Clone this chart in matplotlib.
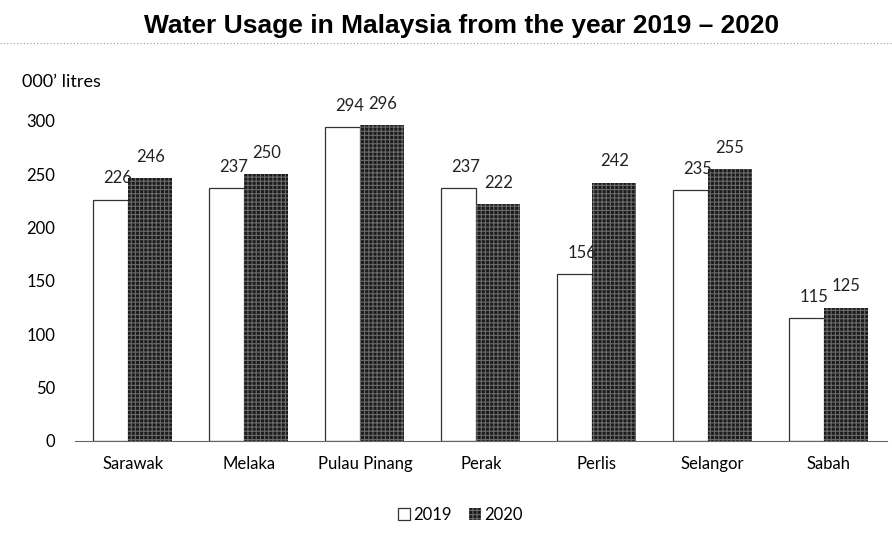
import matplotlib.pyplot as plt
import numpy as np

estados = ['Sarawak', 'Melaka', 'Pulau Pinang', 'Perak', 'Perlis', 'Selangor', 'Sabah']
uso_2019 = [226, 237, 294, 237, 156, 235, 115]
uso_2020 = [246, 250, 296, 222, 242, 255, 125]

plt.rcParams['font.family'] = ['Lato', 'DejaVu Sans']
plt.rcParams['hatch.linewidth'] = 0.8

fig = plt.figure(figsize=(8.92, 5.43), dpi=100)
ax = fig.add_axes([0.084, 0.188, 0.910, 0.668])

x = np.arange(len(estados))
larg1, larg2 = 0.30, 0.38
x1 = x - 0.04 - larg1/2
x2 = x - 0.04 + larg2/2
ax.bar(x1, uso_2019, larg1, facecolor='white', edgecolor='#333333', linewidth=0.9, label='2019')
ax.bar(x2, uso_2020, larg2, facecolor='#1c1c1c', edgecolor='#6a6a6a', hatch='++++', linewidth=0, label='2020')

for xi, v in zip(x1, uso_2019):
    ax.text(xi + 0.06, v + 20, str(v), ha='center', va='center', fontsize=12, color='#222222')
for xi, v in zip(x2, uso_2020):
    ax.text(xi, v + 20, str(v), ha='center', va='center', fontsize=12, color='#222222')

ax.set_ylim(0, 340)
ax.set_xlim(-0.5, len(estados) - 0.5)
ax.set_yticks(range(0, 301, 50))
ax.set_xticks(x)
ax.set_xticklabels(estados, fontsize=12)
ax.tick_params(axis='y', length=0, pad=14, labelsize=12)
ax.tick_params(axis='x', length=0, pad=11)
for lado in ['top', 'right', 'left']:
    ax.spines[lado].set_visible(False)
ax.spines['bottom'].set_color('#666666')
ax.spines['bottom'].set_linestyle((0, (2, 1)))

fig.text(0.025, 0.849, "000\u2019 litres", fontsize=13, ha='left', va='center')
fig.text(0.517, 0.952, 'Water Usage in Malaysia from the year 2019 \u2013 2020',
         fontsize=19, fontweight='bold', ha='center', va='center',
         family=['Liberation Sans', 'DejaVu Sans'])
fig.add_artist(plt.Line2D([0.0, 1.0], [0.921, 0.921], color='#999999', linewidth=0.8,
                          linestyle=(0, (1, 2)), transform=fig.transFigure))

ax.legend(loc='center', bbox_to_anchor=(0.475, -0.204), ncol=2, frameon=False,
          fontsize=12, handlelength=0.75, handleheight=0.75, handletextpad=0.2, columnspacing=1.0)

fig.savefig('out.png', dpi=100)
